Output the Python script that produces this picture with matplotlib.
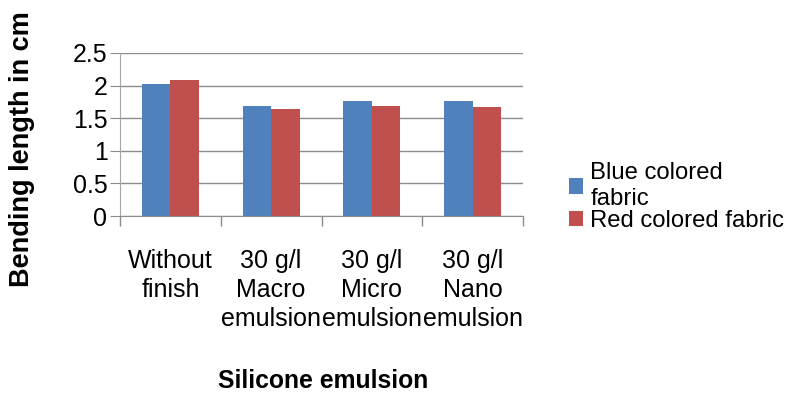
import numpy as np
import matplotlib.pyplot as plt

plt.rcParams['font.family'] = ['Liberation Sans', 'DejaVu Sans']

categories = ["Without\nfinish", "30 g/l\nMacro\nemulsion", "30 g/l\nMicro\nemulsion", "30 g/l\nNano\nemulsion"]
blue_fabric = [2.03, 1.69, 1.77, 1.77]
red_fabric = [2.09, 1.64, 1.69, 1.67]
series_names = ["Blue colored\nfabric", "Red colored fabric"]

fig = plt.figure(figsize=(7.91, 3.94), dpi=100)
ax = fig.add_axes([120 / 791, 1 - 216 / 394, 403 / 791, 163 / 394])

x = np.arange(len(categories))
w = 0.283
b1 = ax.bar(x - w / 2, blue_fabric, w, color="#4F81BD", label=series_names[0])
b2 = ax.bar(x + w / 2, red_fabric, w, color="#C0504D", label=series_names[1])

ax.set_xlim(-0.5, len(categories) - 0.5)
ax.set_ylim(0, 2.5)
ax.set_yticks(np.arange(0, 2.51, 0.5))
ax.set_yticklabels(["0", "0.5", "1", "1.5", "2", "2.5"])
ax.yaxis.grid(True, color="#8c8c8c", linewidth=1)
ax.set_axisbelow(True)

# category separators below the axis, Excel style
ax.set_xticks(np.arange(-0.5, len(categories), 1.0))
ax.set_xticklabels([])
ax.set_xticks(x, minor=True)
ax.set_xticklabels(categories, minor=True, fontsize=18, linespacing=1.25)
ax.tick_params(axis="x", which="major", length=7, color="#8c8c8c", width=1)
ax.tick_params(axis="x", which="minor", length=0, pad=24)
ax.tick_params(axis="y", length=7, color="#8c8c8c", labelsize=18, pad=2)

for s in ["top", "right"]:
    ax.spines[s].set_visible(False)
ax.spines["left"].set_color("#a6a6a6")
ax.spines["bottom"].set_color("#8c8c8c")

fig.text(22 / 791, 1 - 149 / 394, "Bending length in cm", rotation=90, fontsize=19.5,
         fontweight="bold", ha="center", va="center")
fig.text(323 / 791, 1 - 381 / 394, "Silicone emulsion", fontsize=17.8,
         fontweight="bold", ha="center", va="center")

fig.legend(handles=[b1, b2], loc="center left", bbox_to_anchor=(569 / 791, 1 - 197 / 394),
           frameon=False, fontsize=17.2, handlelength=0.6, handleheight=0.6,
           handletextpad=0.3, labelspacing=0.0, borderpad=0, borderaxespad=0)

fig.savefig("out.png", dpi=100)
